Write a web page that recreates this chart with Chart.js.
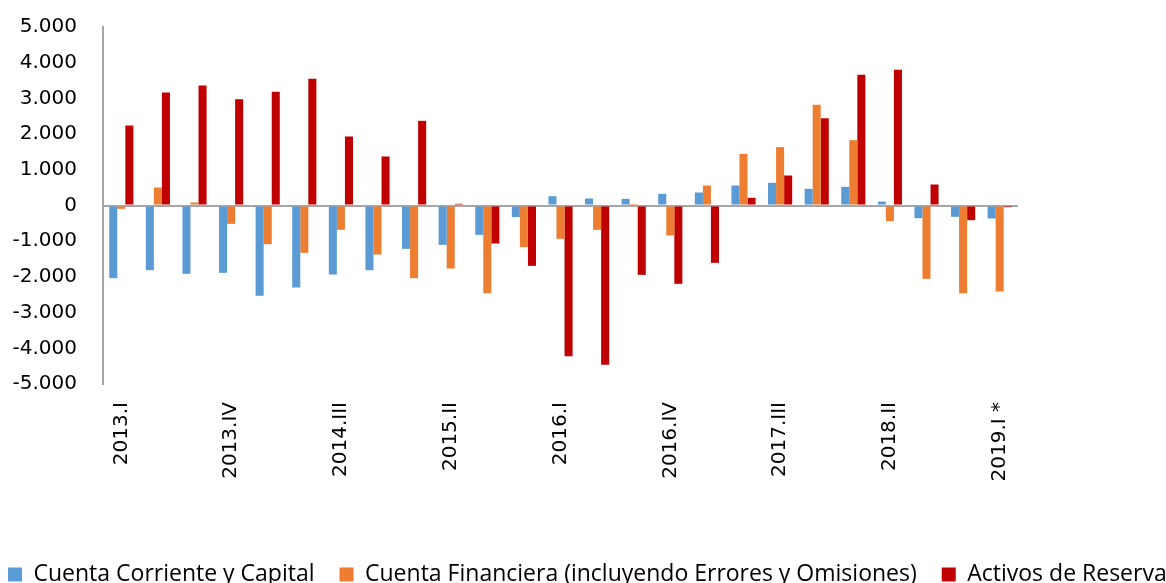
<!DOCTYPE html>
<html>
<head>
<meta charset="utf-8">
<script src="https://cdn.jsdelivr.net/npm/chart.js@4"></script>
<style>
  html, body { margin: 0; padding: 0; background: #ffffff; overflow: hidden; }
  #wrap { width: 1166px; height: 583px; overflow: hidden; }
</style>
</head>
<body>
<div id="wrap"><canvas id="balanzaChart" width="1240" height="583"></canvas></div>
<script>
// Trimestres
const trimestres = [
    '2013.I', '2013.II', '2013.III', '2013.IV',
    '2014.I', '2014.II', '2014.III', '2014.IV',
    '2015.I', '2015.II', '2015.III', '2015.IV',
    '2016.I', '2016.II', '2016.III', '2016.IV',
    '2017.I', '2017.II', '2017.III', '2017.IV',
    '2018.I', '2018.II', '2018.III', '2018.IV',
    '2019.I *'
];

// Series (lectura aproximada del gráfico)
const cuentaCorriente = [-2035, -1811, -1914, -1886, -2530, -2297, -1933, -1811, -1214, -1102, -822, -327,
    261, 196, 187, 327, 364, 560, 635, 467, 523, 112, -355, -317, -364];
const cuentaFinanciera = [-93, 504, 84, -514, -1083, -1326, -682, -1373, -2035, -1765, -2456, -1167,
    -934, -682, 10, -840, 560, 1447, 1634, 2820, 1830, -439, -2054, -2456, -2409];
const activosReserva = [2240, 3165, 3361, 2979, 3184, 3548, 1933, 1373, 2372, 47, -1064, -1690,
    -4220, -4463, -1942, -2194, -1606, 215, 840, 2446, 3660, 3800, 588, -411, -47];

// Formato con punto de miles
function formatoMiles(v) {
    const s = Math.abs(v).toString().replace(/\B(?=(\d{3})+(?!\d))/g, '.');
    return (v < 0 ? '-' : '') + s;
}

const ctx = document.getElementById('balanzaChart').getContext('2d');

// El lienzo es más ancho que la ventana: la leyenda queda cortada a la derecha como en el original
new Chart(ctx, {
    type: 'bar',
    data: {
        labels: trimestres,
        datasets: [
            {
                label: 'Cuenta Corriente y Capital',
                data: cuentaCorriente,
                backgroundColor: '#5B9BD5'
            },
            {
                label: 'Cuenta Financiera (incluyendo Errores y Omisiones)',
                data: cuentaFinanciera,
                backgroundColor: '#ED7D31'
            },
            {
                label: 'Activos de Reserva',
                data: activosReserva,
                backgroundColor: '#C00000'
            }
        ]
    },
    options: {
        responsive: false,
        animation: false,
        layout: {
            padding: { top: 27, left: -17, right: 0, bottom: -13 }
        },
        datasets: {
            bar: {
                categoryPercentage: 0.66,
                barPercentage: 1.0
            }
        },
        plugins: {
            legend: {
                position: 'bottom',
                align: 'start',
                labels: {
                    color: '#000000',
                    boxWidth: 14,
                    boxHeight: 14,
                    padding: 25,
                    font: { family: 'Open Sans', size: 23 }
                }
            },
            tooltip: { enabled: false }
        },
        scales: {
            x: {
                grid: { display: false },
                border: { display: false },
                ticks: {
                    autoSkip: false,
                    minRotation: 90,
                    maxRotation: 90,
                    padding: 10,
                    color: '#000000',
                    font: { family: 'DejaVu Sans', size: 20 },
                    callback: function(value, index) {
                        return index % 3 === 0 ? trimestres[index] : '';
                    }
                },
                afterFit: function(scale) { scale.height = 154; }
            },
            y: {
                min: -5000,
                max: 5000,
                grid: {
                    drawTicks: false,
                    color: function(c) {
                        return c.tick && c.tick.value === 0 ? '#A6A6A6' : 'rgba(0,0,0,0)';
                    },
                    lineWidth: 2
                },
                border: { display: true, color: '#A6A6A6', width: 2 },
                ticks: {
                    stepSize: 1000,
                    padding: 26,
                    color: '#000000',
                    font: { family: 'DejaVu Sans', size: 20 },
                    callback: function(value) { return formatoMiles(value); }
                },
                afterFit: function(scale) {
                    scale.width = 120;
                    // sin margen extra arriba/abajo: el área del gráfico la fija el layout
                    scale.paddingTop = 0;
                    scale.paddingBottom = 0;
                }
            },
            derecha: {
                position: 'right',
                display: true,
                grid: { display: false },
                border: { display: false },
                ticks: { display: false },
                afterFit: function(scale) { scale.width = 222; }
            }
        }
    }
});
</script>
</body>
</html>
